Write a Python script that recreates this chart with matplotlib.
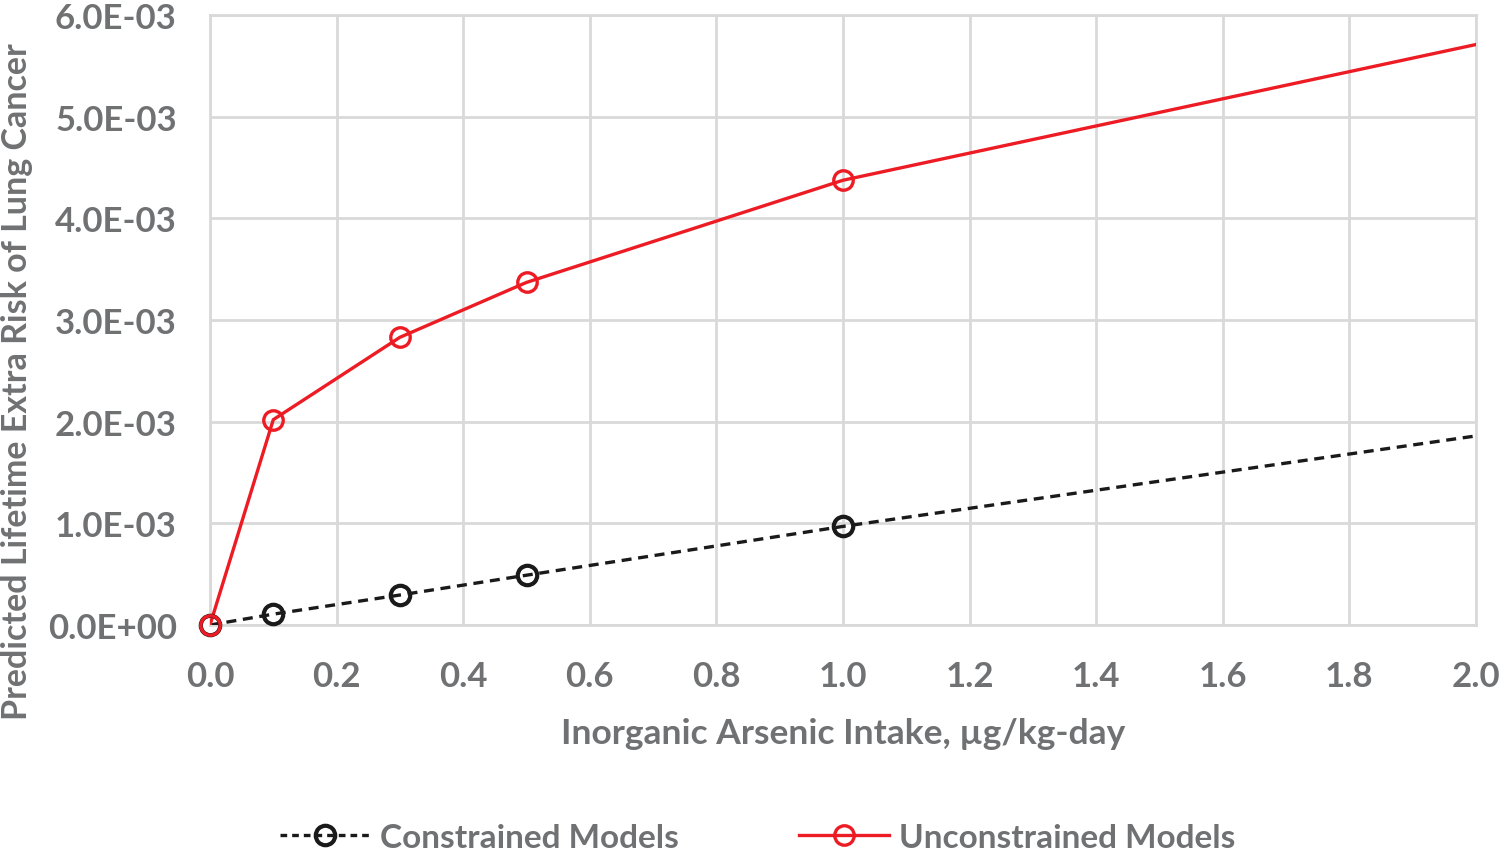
import matplotlib
matplotlib.use('Agg')
import matplotlib.pyplot as plt
from matplotlib.ticker import FuncFormatter

plt.rcParams['font.family'] = ['Lato', 'DejaVu Sans']
plt.rcParams['font.weight'] = 'bold'

# data
dose_pts = [0.0, 0.1, 0.3, 0.5, 1.0]
constrained_pts = [0.0, 0.107e-3, 0.295e-3, 0.49e-3, 0.97e-3]
unconstrained_pts = [0.0, 2.02e-3, 2.83e-3, 3.37e-3, 4.375e-3]
# line extends to 2.0 without a marker
dose_end = 2.0
constrained_end = 1.86e-3
unconstrained_end = 5.71e-3

grey = '#707173'
grid = '#d9d9d9'

fig = plt.figure(figsize=(15, 8.53), dpi=100)
ax = fig.add_axes([0.14, 0.2661, 0.844, 0.7151])

ax.plot(dose_pts + [dose_end], constrained_pts + [constrained_end],
        color='#1a1a1a', lw=2.4, ls=(0, (3, 2)), zorder=3)
ax.plot(dose_pts, constrained_pts, ls='none', marker='o', ms=14,
        mfc='none', mec='#1a1a1a', mew=3, zorder=4, clip_on=False)
ax.plot(dose_pts + [dose_end], unconstrained_pts + [unconstrained_end],
        color='#ed1c24', lw=2.4, zorder=3)
ax.plot(dose_pts, unconstrained_pts, ls='none', marker='o', ms=14,
        mfc='none', mec='#ed1c24', mew=2.4, zorder=5, clip_on=False)

# legend proxies
h1, = ax.plot([], [], color='#1a1a1a', lw=2.4, ls=(0, (2, 1.5)), marker='o',
              ms=14, mfc='none', mec='#1a1a1a', mew=3)
h2, = ax.plot([], [], color='#ed1c24', lw=2.4, marker='o', ms=14,
              mfc='none', mec='#ed1c24', mew=2.4)

ax.set_xlim(0, 2.0)
ax.set_ylim(0, 6e-3)
ax.set_xticks([i * 0.2 for i in range(11)])
ax.set_yticks([i * 1e-3 for i in range(7)])
ax.xaxis.set_major_formatter(FuncFormatter(lambda v, p: '%.1f' % v))

def sci(v, p):
    if abs(v) < 1e-12:
        return '0.0E+00'
    return ('%.1E' % v)

ax.yaxis.set_major_formatter(FuncFormatter(sci))
ax.grid(True, color=grid, lw=2)
for s in ax.spines.values():
    s.set_color(grid)
    s.set_linewidth(2)
ax.tick_params(length=0, labelsize=25, colors=grey)
ax.tick_params(axis='x', pad=25)
ax.tick_params(axis='y', pad=24)
ax.set_xlabel('Inorganic Arsenic Intake, µg/kg-day', fontsize=25.5,
              fontweight='bold', color=grey, labelpad=18)
ax.set_ylabel('Predicted Lifetime Extra Risk of Lung Cancer', fontsize=24.5,
              fontweight='bold', color=grey)
ax.yaxis.set_label_coords(-0.140, 0.40)

leg = fig.legend([h1, h2], ['Constrained Models', 'Unconstrained Models'],
                 loc='lower center', bbox_to_anchor=(0.505, -0.035), ncol=2,
                 frameon=False, fontsize=24, handlelength=2.7, columnspacing=3.6,
                 handletextpad=0.3)
for t in leg.get_texts():
    t.set_color(grey)

fig.savefig('out.png', dpi=100)
